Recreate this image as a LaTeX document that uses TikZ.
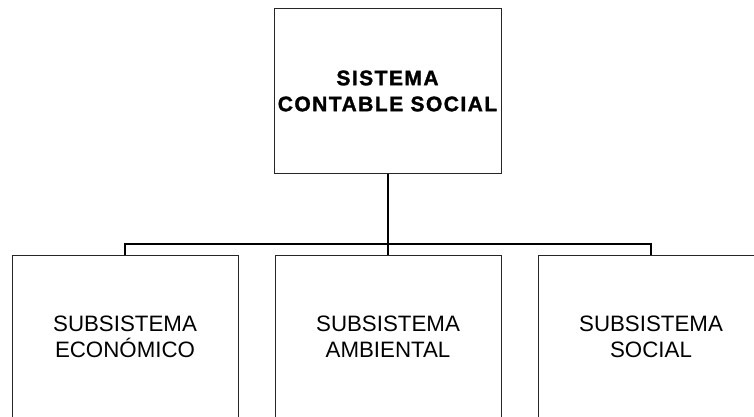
\documentclass[tikz,border=0pt]{standalone}
\usepackage{fontspec}
\setmainfont{Liberation Sans}
\newfontfamily\boldspaced[LetterSpace=7,FakeBold=1.5]{Liberation Sans Bold}
\begin{document}
\begin{tikzpicture}[x=1pt,y=-1pt,
  box/.style={draw=black!85, line width=1pt, inner sep=0pt, minimum width=226pt, minimum height=164pt, align=center, font=\fontsize{22.3}{25.7}\selectfont},
  topbox/.style={box, minimum width=227pt, font=\boldspaced\fontsize{21}{26}\selectfont},
  conn/.style={draw=black, line width=2pt}]
\useasboundingbox (0,0) rectangle (754,417);
\clip (0,0) rectangle (754,417);
\fill[white] (0,0) rectangle (754,417);
\node[topbox] (top) at (387.5,91) {SISTEMA\\CONTABLE SOCIAL};
\node[box] (eco) at (125,337) {SUBSISTEMA\\ECONÓMICO};
\node[box] (amb) at (388,337) {SUBSISTEMA\\AMBIENTAL};
\node[box] (soc) at (651,337) {SUBSISTEMA\\SOCIAL};
\coordinate (bl) at (125,244);
\coordinate (br) at (651,244);
\draw[conn] (top.south) -- (top.south |- amb.north);
\draw[conn] (eco.north) -- (bl) -- (br) -- (soc.north);
\end{tikzpicture}
\end{document}
